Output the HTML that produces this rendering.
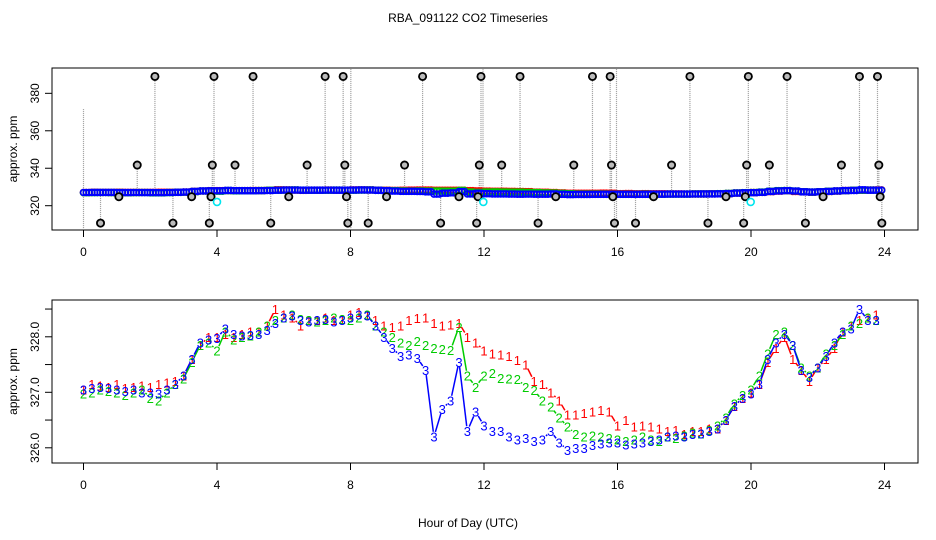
<!DOCTYPE html>
<html><head><meta charset="utf-8"><style>
html,body{margin:0;padding:0;background:#fff;}
svg{display:block;font-family:"Liberation Sans",Arial,sans-serif;}
</style></head><body>
<svg id="chart" width="936" height="540" viewBox="0 0 936 540" xmlns="http://www.w3.org/2000/svg">
<defs>
<clipPath id="clipTop"><rect x="52" y="68" width="866" height="162"/></clipPath>
<clipPath id="clipBot"><rect x="52" y="300" width="866" height="163"/></clipPath>
</defs>
<rect x="0" y="0" width="936" height="540" fill="#fff"/>
<text x="468" y="22" font-size="12" text-anchor="middle">RBA_091122  CO2 Timeseries</text>
<g id="top"></g>
<g id="bot"></g>
<text x="468" y="527" font-size="12" text-anchor="middle">Hour of Day (UTC)</text>
</svg>
<script>
const hours = [0,0.25,0.5,0.75,1,1.25,1.5,1.75,2,2.25,2.5,2.75,3,3.25,3.5,3.75,4,4.25,4.5,4.75,5,5.25,5.5,5.75,6,6.25,6.5,6.75,7,7.25,7.5,7.75,8,8.25,8.5,8.75,9,9.25,9.5,9.75,10,10.25,10.5,10.75,11,11.25,11.5,11.75,12,12.25,12.5,12.75,13,13.25,13.5,13.75,14,14.25,14.5,14.75,15,15.25,15.5,15.75,16,16.25,16.5,16.75,17,17.25,17.5,17.75,18,18.25,18.5,18.75,19,19.25,19.5,19.75,20,20.25,20.5,20.75,21,21.25,21.5,21.75,22,22.25,22.5,22.75,23,23.25,23.5,23.75];
const series1 = [
327.05,327.15,327.12,327.10,327.15,327.08,327.10,327.12,
327.10,327.15,327.18,327.20,327.30,327.60,327.85,328.00,
328.00,328.05,328.00,328.05,328.10,328.10,328.20,328.50,
328.40,328.35,328.20,328.30,328.30,328.35,328.30,328.32,
328.40,328.45,328.40,328.30,328.20,328.18,328.20,328.30,
328.34,328.35,328.25,328.20,328.22,328.25,328.00,327.90,
327.75,327.70,327.68,327.65,327.58,327.50,327.20,327.15,
327.00,326.85,326.60,326.60,326.63,326.65,326.68,326.65,
326.40,326.50,326.38,326.40,326.38,326.35,326.30,326.32,
326.25,326.30,326.30,326.35,326.35,326.50,326.75,326.90,
327.00,327.15,327.55,327.80,328.00,327.60,327.40,327.20,
327.45,327.60,327.80,328.10,328.20,328.30,328.35,328.40];
const series2 = [
326.98,327.00,327.05,327.02,327.00,326.95,327.00,327.05,
326.90,326.85,327.00,327.15,327.25,327.55,327.85,327.90,
327.75,328.10,327.95,328.00,328.02,328.10,328.20,328.30,
328.35,328.40,328.32,328.30,328.28,328.30,328.35,328.32,
328.30,328.35,328.40,328.20,328.10,328.00,327.90,327.85,
327.92,327.85,327.80,327.78,327.76,328.18,327.30,327.10,
327.30,327.35,327.26,327.25,327.24,327.10,327.04,326.85,
326.74,326.55,326.38,326.25,326.20,326.22,326.20,326.18,
326.15,326.12,326.15,326.20,326.15,326.12,326.20,326.18,
326.22,326.28,326.26,326.32,326.40,326.55,326.80,326.95,
327.05,327.30,327.70,328.05,328.10,327.85,327.45,327.30,
327.45,327.70,327.85,328.05,328.20,328.25,328.35,328.30];
const series3 = [
327.05,327.08,327.10,327.08,327.05,327.02,327.05,327.00,
327.00,326.98,327.05,327.15,327.30,327.60,327.90,327.95,
327.98,328.15,328.05,328.02,328.03,328.05,328.12,328.25,
328.35,328.38,328.30,328.28,328.30,328.32,328.28,328.30,
328.35,328.40,328.38,328.20,328.00,327.80,327.65,327.68,
327.62,327.40,326.20,326.70,326.85,327.55,326.30,326.65,
326.40,326.30,326.30,326.20,326.15,326.18,326.12,326.15,
326.30,326.10,325.96,326.00,326.00,326.05,326.08,326.10,
326.10,326.06,326.08,326.10,326.12,326.15,326.20,326.22,
326.20,326.25,326.26,326.30,326.35,326.50,326.75,326.90,
326.98,327.15,327.60,327.90,328.05,327.85,327.40,327.28,
327.45,327.65,327.90,328.10,328.15,328.50,328.30,328.30];
const spikeHours = [0.51,1.06,1.61,2.14,2.68,3.24,3.77,3.82,3.86,3.91,4.54,5.08,5.61,6.15,6.70,7.24,7.78,7.83,7.88,7.92,8.53,9.08,9.62,10.16,10.70,11.25,11.78,11.82,11.86,11.91,12.53,13.08,13.62,14.15,14.69,15.25,15.78,15.82,15.86,15.91,16.54,17.08,17.62,18.17,18.71,19.25,19.78,19.83,19.87,19.92,20.55,21.08,21.63,22.16,22.71,23.25,23.79,23.83,23.87,23.92];
const spikeValues = [310.7,324.8,341.7,389,310.7,324.8,310.7,324.8,341.7,389,341.7,389,310.7,324.8,341.7,389,389,341.7,324.8,310.7,310.7,324.8,341.7,389,310.7,324.8,310.7,324.8,341.7,389,341.7,389,310.7,324.8,341.7,389,389,341.7,324.8,310.7,310.7,324.8,341.7,389,310.7,324.8,310.7,324.8,341.7,389,341.7,389,310.7,324.8,341.7,389,389,341.7,324.8,310.7];
const bareSpikeHours = [0.0,8.01,11.97,15.97];
const bareSpikeLow = [308,308,324,308];
const bareSpikeHigh = [372,393,393,393];
const cyanHours = [4.0,11.98,19.99];
const cyanValues = [322,322,322];
const xTicks = [0,4,8,12,16,20,24];
const topYTicks = [320,340,360,380];
const botYTicks = [326.0,326.5,327.0,327.5,328.0,328.5];
const botYLabels = [326.0,327.0,328.0];

const NS = "http://www.w3.org/2000/svg";
function mk(tag, attrs, parent){const e=document.createElementNS(NS,tag);for(const k in attrs)e.setAttribute(k,attrs[k]);parent.appendChild(e);return e;}
const xS = h => 83.5 + h*33.375;
const yT = v => 205.7 - (v-320)*1.873;
const yB = v => 392.3 - (v-327)*55.5;
const baseTop = 327.4;

function axes(g, top, bottom, yTicks, yFn, yLabels, fmt, panel){
  const box = mk('rect',{x:52,y:top,width:866,height:bottom-top,fill:'none',stroke:'#000','stroke-width':1},g);
  
  
  xTicks.forEach(t=>{
    const l = mk('line',{x1:xS(t),x2:xS(t),y1:bottom,y2:bottom+7,stroke:'#000'},g);
    
    
    const tx = mk('text',{x:xS(t),y:bottom+26,'font-size':12,'text-anchor':'middle'},g);
    tx.textContent = t;
    
    
  });
  yTicks.forEach(t=>{
    const l = mk('line',{x1:45,x2:52,y1:yFn(t),y2:yFn(t),stroke:'#000'},g);
    
    
  });
  yLabels.forEach(t=>{
    const y=yFn(t);
    const tx = mk('text',{x:0,y:0,'font-size':12,'text-anchor':'middle',transform:`translate(39,${y}) rotate(-90)`},g);
    tx.textContent = fmt(t);
    
    
  });
  const yt = mk('text',{x:0,y:0,'font-size':12,'text-anchor':'middle',transform:`translate(17,${(top+bottom)/2}) rotate(-90)`},g);
  yt.textContent = 'approx. ppm';
  
  
}

// TOP PANEL
const gt = document.getElementById('top');
axes(gt,68,230,topYTicks,yT,topYTicks,v=>String(v),'top');
const tp = mk('g',{'clip-path':'url(#clipTop)'},gt);
spikeHours.forEach((h,i)=>{
  const l = mk('line',{x1:xS(h),x2:xS(h),y1:yT(baseTop),y2:yT(spikeValues[i]),stroke:'#999','stroke-width':1.2,'stroke-dasharray':'1,1'},tp);
  
  
});
bareSpikeHours.forEach((h,i)=>{
  const l = mk('line',{x1:xS(h),x2:xS(h),y1:yT(bareSpikeLow[i]),y2:yT(bareSpikeHigh[i]),stroke:'#999','stroke-width':1.2,'stroke-dasharray':'1,1'},tp);
  
  
});
const colors = ['#ff0000','#00cc00','#0000ff'];
[series1,series2,series3].forEach((s,k)=>{
  s.forEach((v,i)=>{
    for(let j=0;j<3;j++){
      const hh = hours[i] + j*0.083;
      const c = mk('circle',{cx:xS(hh),cy:yT(v),r:3,fill:'none',stroke:colors[k],'stroke-width':1.6},tp);
      
      
    }
  });
});
spikeHours.forEach((h,i)=>{
  const c = mk('circle',{cx:xS(h),cy:yT(spikeValues[i]),r:3.6,fill:'#bbb',stroke:'#000','stroke-width':1.8},tp);
  
  
});
cyanHours.forEach((h,i)=>{
  const c = mk('circle',{cx:xS(h),cy:yT(cyanValues[i]),r:3.5,fill:'none',stroke:'#00e5ee','stroke-width':1.6},tp);
  
  
});

// BOTTOM PANEL
const gb = document.getElementById('bot');
axes(gb,300,463,botYTicks,yB,botYLabels,v=>v.toFixed(1),'bottom');
const bp = mk('g',{'clip-path':'url(#clipBot)'},gb);
[series1,series2,series3].forEach((s,k)=>{
  const ch = String(k+1);
  for(let i=0;i<s.length-1;i++){
    const x1=xS(hours[i]),y1=yB(s[i]),x2=xS(hours[i+1]),y2=yB(s[i+1]);
    const dx=x2-x1,dy=y2-y1,L=Math.hypot(dx,dy),g=5;
    if(L>2*g+1){
      const ux=dx/L,uy=dy/L;
      const l = mk('line',{x1:x1+ux*g,y1:y1+uy*g,x2:x2-ux*g,y2:y2-uy*g,stroke:colors[k],'stroke-width':1.5},bp);
      
      
    }
  }
  s.forEach((v,i)=>{
    const t = mk('text',{x:xS(hours[i]),y:yB(v)+5,'font-size':13,'text-anchor':'middle',fill:colors[k]},bp);
    t.textContent = ch;
    
    
  });
});
</script>
</body></html>
